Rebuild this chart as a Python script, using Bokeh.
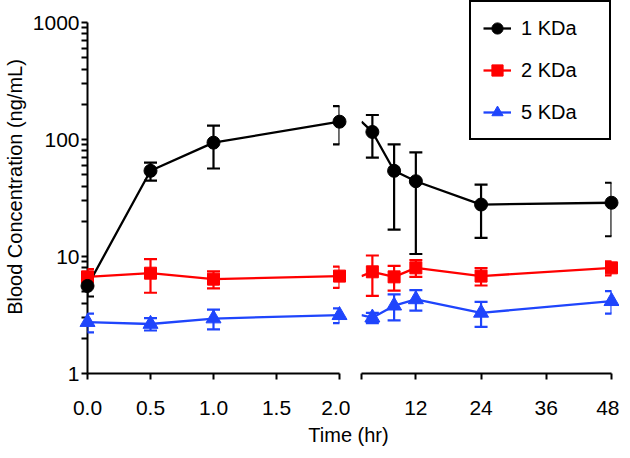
from bokeh.plotting import figure
from bokeh.models import (ColumnDataSource, Range1d, FixedTicker,
                          NumeralTickFormatter, Whisker, TeeHead, Legend, LegendItem, Label)
from bokeh.layouts import row, column
from bokeh.embed import file_html
from bokeh.resources import INLINE

# ---------------- data ----------------
time_early = [0, 0.5, 1, 2]          # hr, left axis segment
time_late = [4, 8, 12, 24, 48]       # hr, right axis segment

kda1_mean = [5.6, 54, 94, 142, 116, 54, 44, 27.8, 28.8]
kda1_sd = [1.05, 9.5, 37.5, 51, 46, 37, 33.5, 13.4, 13.9]

kda2_mean = [6.7, 7.2, 6.4, 6.8, 7.4, 6.7, 8.0, 6.8, 8.0]
kda2_sd = [1.1, 2.3, 1.05, 1.4, 2.8, 1.6, 1.3, 1.15, 1.1]

kda5_mean = [2.75, 2.65, 2.95, 3.15, 3.0, 3.8, 4.3, 3.3, 4.15]
kda5_sd = [0.5, 0.32, 0.57, 0.45, 0.3, 0.95, 0.85, 0.8, 0.9]

series_labels = ["1 KDa", "2 KDa", "5 KDa"]
y_ticks = [1, 10, 100, 1000]
x_ticks_early = [0, 0.5, 1, 1.5, 2]
x_ticks_late = [2, 12, 24, 36, 48]

# ---------------- layout / style ----------------
FONT = "Liberation Sans"
FRAME_H = 373
DECADE_PX = 117
TOP_PAD_PX = 22                    # frame space above the 1000 tick (legend lives there)
LEFT_W, GAP, RIGHT_W = 252, 22, 250
BOTTOM = 50
y_top = y_ticks[-1] * 10 ** (TOP_PAD_PX / DECADE_PX)
y_bottom = y_ticks[-1] / 10 ** ((FRAME_H - TOP_PAD_PX) / DECADE_PX)
y_range = Range1d(y_bottom, y_top)

BLACK = "#000000"
RED = "#ff0000"
BLUE = "#1f45fc"

def base_fig(x_range, frame_w, mb_left, mb_right, y_axis):
    p = figure(frame_width=frame_w, frame_height=FRAME_H, x_range=x_range,
               y_range=y_range, y_axis_type="log", output_backend="svg",
               toolbar_location=None, min_border_left=mb_left,
               min_border_right=mb_right, min_border_top=0, min_border_bottom=BOTTOM,
               y_axis_location="left" if y_axis else None,
               background_fill_color="white", border_fill_color="white")
    p.outline_line_color = None
    p.grid.visible = False
    return p

def style_axis(ax):
    ax.axis_line_width = 2
    ax.axis_line_color = "black"
    ax.major_tick_line_width = 2
    ax.major_tick_line_color = "black"
    ax.major_tick_in = 0
    ax.major_label_text_font = FONT
    ax.major_label_text_font_size = "21px"
    ax.major_label_text_color = "black"
    ax.axis_label_text_font = FONT
    ax.axis_label_text_font_size = "20px"
    ax.axis_label_text_font_style = "normal"
    ax.axis_label_text_color = "black"

def style_xaxis(ax, ticks, fmt=None, overrides=None):
    style_axis(ax)
    ax.ticker = FixedTicker(ticks=ticks, minor_ticks=[])
    if fmt:
        ax.formatter = NumeralTickFormatter(format=fmt)
    if overrides:
        ax.major_label_overrides = overrides
    ax.bounds = (ticks[0], ticks[-1])
    ax.major_tick_out = 6
    ax.major_label_standoff = 21

p1 = base_fig(Range1d(time_early[0], time_early[-1]), LEFT_W, 82, GAP // 2, True)
p2 = base_fig(Range1d(time_early[-1], time_late[-1]), RIGHT_W, GAP - GAP // 2, 8, False)

style_xaxis(p1.xaxis[0], x_ticks_early, fmt="0.0")
style_xaxis(p2.xaxis[0], x_ticks_late, overrides={x_ticks_late[0]: ""})

# log y axis: decade labels, unlabelled ticks at 2..9 within each decade
between = [m * t for t in y_ticks[:-1] for m in range(2, 10)]
ya = p1.yaxis[0]
style_axis(ya)
ya.ticker = FixedTicker(ticks=sorted(y_ticks + between), minor_ticks=[])
ya.formatter = NumeralTickFormatter(format="0")
ya.major_label_overrides = {v: "" for v in between}
ya.bounds = (y_ticks[0], y_ticks[-1])
ya.major_tick_out = 6
ya.major_label_standoff = 2
ya.axis_label = "Blood Concentration (ng/mL)"
ya.axis_label_standoff = 4

n_early = len(time_early)

def draw(fig, t, mean, sd, color, marker, size, line_t, line_y):
    src = ColumnDataSource(dict(t=t, y=mean,
                                lo=[m - s for m, s in zip(mean, sd)],
                                hi=[m + s for m, s in zip(mean, sd)]))
    lr = fig.line(line_t, line_y, line_color=color, line_width=2.3)
    w = Whisker(source=src, base="t", upper="hi", lower="lo",
                line_color=color, line_width=2.2, level="annotation",
                upper_head=TeeHead(size=13, line_color=color, line_width=2.2),
                lower_head=TeeHead(size=13, line_color=color, line_width=2.2))
    fig.add_layout(w)
    sr = fig.scatter("t", "y", source=src, marker=marker, size=size,
                     fill_color=color, line_color=color, level="overlay")
    return lr, sr

series = [
    (kda5_mean, kda5_sd, BLUE, "triangle", 15),
    (kda2_mean, kda2_sd, RED, "square", 12),
    (kda1_mean, kda1_sd, BLACK, "circle", 13),
]

right_renderers = []
for mean, sd, color, marker, size in series:
    me, se = mean[:n_early], sd[:n_early]
    ml, sl = mean[n_early:], sd[n_early:]
    draw(p1, time_early, me, se, color, marker, size, time_early, me)
    right_renderers.append(draw(p2, time_late, ml, sl, color, marker, size,
                                [time_early[-1]] + time_late, [me[-1]] + ml))

right_renderers = right_renderers[::-1]  # 1 KDa, 2 KDa, 5 KDa
legend = Legend(items=[LegendItem(label=lab, renderers=list(rr))
                       for lab, rr in zip(series_labels, right_renderers)],
                location="top_right", margin=0, padding=12, spacing=14,
                glyph_width=28, glyph_height=28, label_height=28,
                label_width=76, label_standoff=10,
                label_text_font=FONT, label_text_font_size="20px",
                label_text_color="black",
                border_line_color="black", border_line_width=2, border_line_alpha=1,
                background_fill_color="white", background_fill_alpha=1)
p2.add_layout(legend)

# strip holding the shared title of the broken x axis
STRIP_W, STRIP_H = 614, 23
p3 = figure(width=STRIP_W, height=STRIP_H, x_range=Range1d(0, STRIP_W),
            y_range=Range1d(0, STRIP_H), output_backend="svg", toolbar_location=None,
            min_border=0, x_axis_location=None, y_axis_location=None,
            background_fill_color="white", border_fill_color="white")
p3.outline_line_color = None
p3.grid.visible = False
p3.add_layout(Label(x=348, y=12, text="Time (hr)", text_align="center",
                    text_baseline="middle", text_font=FONT,
                    text_font_size="20px", text_color="black"))

layout = column(row(p1, p2), p3)
open("out.html", "w").write(file_html(layout, INLINE))
